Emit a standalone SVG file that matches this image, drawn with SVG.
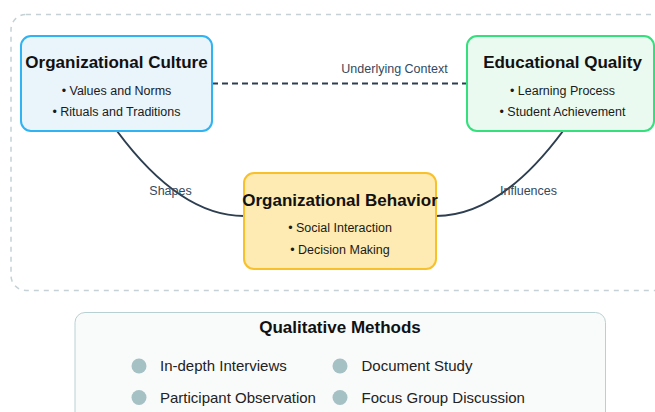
<svg xmlns="http://www.w3.org/2000/svg" width="655" height="412" viewBox="0 0 655 412">
  <style>
    text { font-family: "Liberation Sans", Arial, sans-serif; }
    .title { font-size: 17px; font-weight: bold; fill: #111; text-anchor: middle; }
    .item { font-size: 12.5px; fill: #1a1a1a; text-anchor: middle; }
    .label { font-size: 12.5px; fill: #34495e; text-anchor: middle; }
    .link { fill: none; stroke: #2c3e50; stroke-width: 2; }
    .method { font-size: 15px; fill: #222; }
    .dot { fill: #a5c1c4; }
  </style>

  <rect width="655" height="412" fill="#ffffff"/>

  <!-- framework container -->
  <rect x="11" y="14.5" width="670" height="276" rx="15" fill="none" stroke="#c5d1d4" stroke-width="1.5" stroke-dasharray="5,5"/>

  <!-- connectors -->
  <g id="connectors">
    <path class="link" d="M212,83.5 L467,83.5" stroke-dasharray="6,4"/>
    <path class="link" d="M117,131 Q180,216 244,216"/>
    <path class="link" d="M563,131 Q500,216 436,216"/>
    <text class="label" x="394.5" y="73">Underlying Context</text>
    <text class="label" x="170.5" y="195">Shapes</text>
    <text class="label" x="528.5" y="195">Influences</text>
  </g>

  <g id="organizational-culture">
    <rect x="21" y="36" width="191" height="95" rx="10" fill="#eaf4fb" stroke="#2fb3f2" stroke-width="2"/>
    <text class="title" x="116.5" y="68">Organizational Culture</text>
    <text class="item" x="116.5" y="94.5">• Values and Norms</text>
    <text class="item" x="116.5" y="116">• Rituals and Traditions</text>
  </g>

  <g id="educational-quality">
    <rect x="467" y="36" width="187" height="95" rx="10" fill="#eafaf1" stroke="#33e07c" stroke-width="2"/>
    <text class="title" x="562.5" y="68">Educational Quality</text>
    <text class="item" x="562.5" y="94.5">• Learning Process</text>
    <text class="item" x="562.5" y="116">• Student Achievement</text>
  </g>

  <g id="organizational-behavior">
    <rect x="244" y="173" width="192" height="96" rx="10" fill="#fdebb3" stroke="#f8c12c" stroke-width="2"/>
    <text class="title" x="340" y="205.5">Organizational Behavior</text>
    <text class="item" x="340" y="232">• Social Interaction</text>
    <text class="item" x="340" y="253.5">• Decision Making</text>
  </g>

  <g id="qualitative-methods">
    <rect x="75" y="312.5" width="530.5" height="110" rx="10" fill="#f9fafa" stroke="#b9d0d2" stroke-width="1"/>
    <text class="title" x="340" y="333">Qualitative Methods</text>
    <circle class="dot" cx="139" cy="366" r="7.5"/>
    <text class="method" x="160" y="371">In-depth Interviews</text>
    <circle class="dot" cx="340" cy="366" r="7.5"/>
    <text class="method" x="361.5" y="371">Document Study</text>
    <circle class="dot" cx="139" cy="397.5" r="7.5"/>
    <text class="method" x="160" y="403">Participant Observation</text>
    <circle class="dot" cx="340" cy="397.5" r="7.5"/>
    <text class="method" x="361.5" y="403">Focus Group Discussion</text>
  </g>
</svg>
